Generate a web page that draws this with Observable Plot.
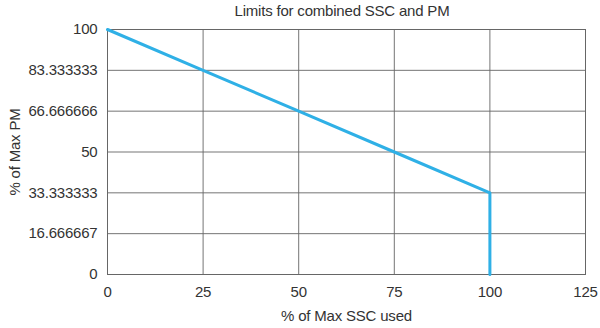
<!DOCTYPE html>
<html><head><meta charset="utf-8">
<script src="https://cdn.jsdelivr.net/npm/d3@7"></script>
<script src="https://cdn.jsdelivr.net/npm/@observablehq/plot@0.6"></script>
<style>
body{margin:0;background:#fff;font-family:"Liberation Sans",Arial,sans-serif;}
#title{position:absolute;left:103px;width:478px;top:0;height:20px;line-height:22px;text-align:center;font-size:15px;color:#333;letter-spacing:-0.2px;}
#chart{position:absolute;top:20px;left:0;}
</style></head>
<body>
<div id="title">Limits for combined SSC and PM</div>
<div id="chart"></div>
<script>
const ssc = [0, 25, 50, 75, 100, 100];
const pm = [100, 83.333333, 66.666666, 50, 33.333333, 0];
const xTicks = [0, 25, 50, 75, 100, 125];
const yTicks = [0, 16.666667, 33.333333, 50, 66.666666, 83.333333, 100];
const yTickLabels = ["0", "16.666667", "33.333333", "50", "66.666666", "83.333333", "100"];

const data = ssc.map((x, i) => ({x, y: pm[i]}));
const chart = Plot.plot({
  width: 600, height: 308,
  marginTop: 9, marginBottom: 54, marginLeft: 107, marginRight: 15,
  style: {fontFamily: "'Liberation Sans', Arial, sans-serif", fontSize: "15px", color: "#333", letterSpacing: "-0.2px"},
  x: {domain: [0, 125], ticks: xTicks, tickSize: 0, tickPadding: 12, label: "% of Max SSC used", labelAnchor: "center", labelArrow: "none", labelOffset: 46},
  y: {domain: [0, 100], ticks: yTicks, tickFormat: (d) => yTickLabels[yTicks.indexOf(d)], tickSize: 0, tickPadding: 10, label: "% of Max PM", labelAnchor: "center", labelArrow: "none", labelOffset: 98},
  marks: [
    Plot.gridX(xTicks, {stroke: "#666", strokeOpacity: 0.9, strokeWidth: 1}),
    Plot.gridY(yTicks, {stroke: "#666", strokeOpacity: 0.9, strokeWidth: 1}),
    Plot.frame({stroke: "#666", strokeWidth: 1}),
    Plot.line(data, {x: "x", y: "y", stroke: "#2fb0e6", strokeWidth: 3})
  ]
});
document.getElementById("chart").appendChild(chart);
</script>
</body></html>
